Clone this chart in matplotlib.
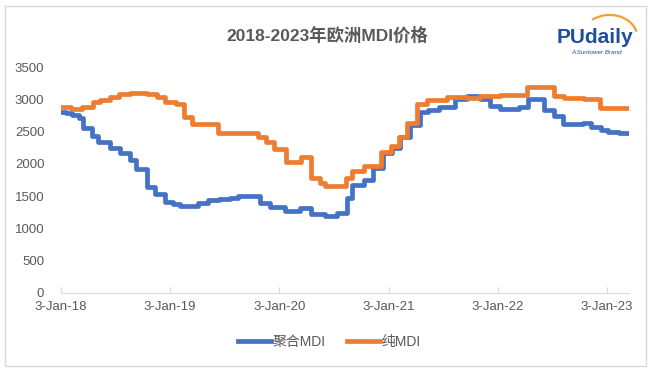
import pandas as pd
import matplotlib.pyplot as plt
from matplotlib.patches import Rectangle, Arc

plt.rcParams['font.family'] = ['Liberation Sans', 'Noto Sans CJK SC', 'DejaVu Sans']

# --- Data (change points of weekly prices, EUR/t) ---
poly_dates = ['2018-01-03', '2018-01-20', '2018-02-09', '2018-03-05', '2018-03-16', '2018-04-15',
              '2018-05-07', '2018-06-15', '2018-07-18', '2018-08-21', '2018-09-11', '2018-10-18',
              '2018-11-12', '2018-12-16', '2019-01-13', '2019-02-04', '2019-04-06', '2019-05-09',
              '2019-06-17', '2019-07-21', '2019-08-18', '2019-10-31', '2019-12-02', '2020-01-21',
              '2020-03-11', '2020-04-19', '2020-06-05', '2020-07-13', '2020-08-16', '2020-09-02',
              '2020-10-11', '2020-11-11', '2020-12-14', '2021-01-14', '2021-02-09', '2021-03-14',
              '2021-04-17', '2021-05-14', '2021-06-19', '2021-08-12', '2021-09-22', '2021-11-06',
              '2021-12-07', '2022-01-11', '2022-03-14', '2022-04-13', '2022-06-08', '2022-07-09',
              '2022-08-09', '2022-10-15', '2022-11-11', '2022-12-14', '2023-01-08', '2023-02-14',
              '2023-03-16']
poly_values = [2810, 2785, 2760, 2720, 2560, 2430,
               2345, 2240, 2175, 2060, 1915, 1645,
               1525, 1415, 1375, 1350, 1400, 1440,
               1450, 1475, 1500, 1390, 1335, 1275,
               1320, 1215, 1185, 1230, 1465, 1670,
               1750, 1940, 2165, 2240, 2410, 2605,
               2810, 2835, 2880, 3005, 3055, 3005,
               2900, 2850, 2880, 3005, 2835, 2745,
               2620, 2640, 2580, 2525, 2500, 2475,
               2475]

pure_dates = ['2018-01-03', '2018-02-07', '2018-03-14', '2018-04-20', '2018-05-14', '2018-06-17',
              '2018-07-15', '2018-08-23', '2018-10-18', '2018-11-20', '2018-12-18', '2019-01-23',
              '2019-02-20', '2019-03-17', '2019-06-12', '2019-10-23', '2019-11-20', '2019-12-15',
              '2020-01-26', '2020-03-16', '2020-04-19', '2020-05-19', '2020-06-05', '2020-08-14',
              '2020-09-02', '2020-10-11', '2020-12-09', '2021-01-12', '2021-02-06', '2021-03-05',
              '2021-04-08', '2021-05-12', '2021-07-17', '2021-09-22', '2021-11-06', '2022-01-11',
              '2022-04-11', '2022-07-09', '2022-08-11', '2022-10-17', '2022-12-10', '2023-03-16']
pure_values = [2890, 2855, 2890, 2955, 2990, 3035,
               3080, 3095, 3080, 3035, 2965, 2930,
               2725, 2620, 2475, 2410, 2345, 2225,
               2035, 2100, 1785, 1710, 1655, 1775,
               1895, 1965, 2190, 2285, 2425, 2640,
               2925, 2990, 3045, 3020, 3055, 3065,
               3200, 3055, 3030, 3005, 2865, 2865]

tick_dates = ['2018-01-03', '2019-01-03', '2020-01-03', '2021-01-03', '2022-01-03', '2023-01-03']
tick_labels = ['3-Jan-18', '3-Jan-19', '3-Jan-20', '3-Jan-21', '3-Jan-22', '3-Jan-23']

# --- Plotting ---
fig = plt.figure(figsize=(6.52, 3.73), dpi=100)
ax = fig.add_axes([0.0936, 0.2153, 0.8711, 0.6043])

ax.plot(pd.to_datetime(poly_dates), poly_values, drawstyle='steps-post',
        color='#4472C4', lw=3.4, label='聚合MDI')
ax.plot(pd.to_datetime(pure_dates), pure_values, drawstyle='steps-post',
        color='#ED7D31', lw=3.4, label='纯MDI')

ax.set_xlim(pd.Timestamp('2018-01-03'), pd.Timestamp('2023-03-18'))
ax.set_ylim(0, 3500)
ax.set_yticks(range(0, 3501, 500))
ax.set_xticks(pd.to_datetime(tick_dates))
ax.set_xticklabels(tick_labels)

for side in ['top', 'right', 'left']:
    ax.spines[side].set_visible(False)
ax.spines['bottom'].set_color('#D9D9D9')
ax.tick_params(axis='y', length=0, pad=12, labelsize=9.5, labelcolor='#595959')
ax.tick_params(axis='x', direction='in', length=4, color='#D9D9D9', pad=6,
               labelsize=9.5, labelcolor='#595959')

fig.text(0.502, 0.905, '2018-2023年欧洲MDI价格', ha='center', va='center',
         fontsize=12.5, fontweight='bold', color='#595959',
         family=['Liberation Sans', 'Noto Sans CJK SC'])

leg = fig.legend(loc='center', bbox_to_anchor=(0.505, 0.083), ncol=2, frameon=False,
                 fontsize=10, handlelength=2.4, handletextpad=0.1, columnspacing=1.5)
for t in leg.get_texts():
    t.set_color('#595959')

# chart border
fig.add_artist(Rectangle((5 / 652, 7 / 373), 641 / 652, 360 / 373, transform=fig.transFigure,
                         fill=False, edgecolor='#D9D9D9', lw=1))

# logo
fig.text(0.912, 0.9, 'PUdaily', ha='center', va='center', fontsize=15,
         fontweight='bold', color='#1F4E9A')
fig.text(0.915, 0.86, 'A Suntower Brand', ha='center', va='center', fontsize=4.5,
         style='italic', color='#1F4E9A')
fig.add_artist(Arc((0.935, 0.9), 0.085, 0.12, theta1=20, theta2=120,
                   transform=fig.transFigure, color='#F0A030', lw=1.6))

fig.savefig('out.png', dpi=100)
